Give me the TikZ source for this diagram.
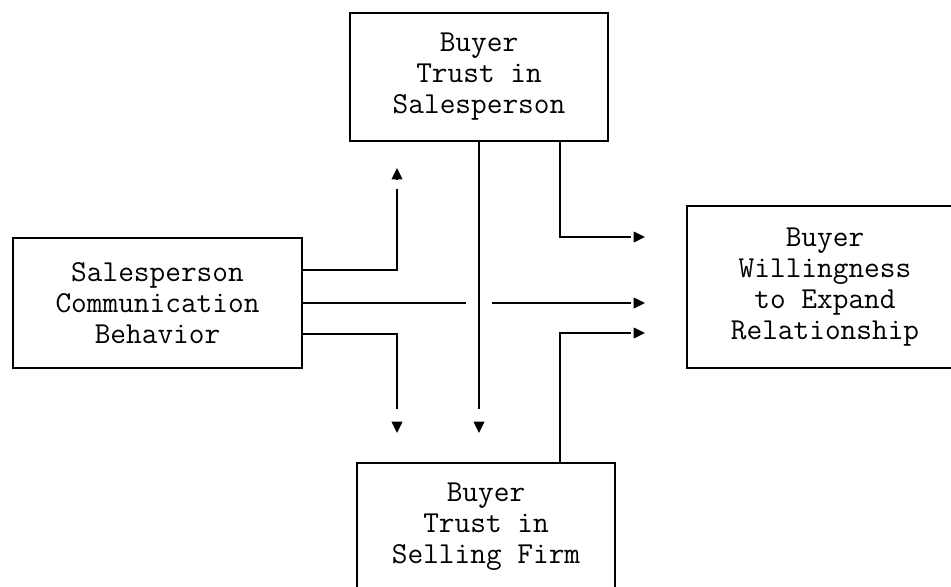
\documentclass[tikz,border=0pt]{standalone}
\usetikzlibrary{arrows.meta}

\begin{document}
\begin{tikzpicture}[x=0.03cm,y=-0.03cm,
  box/.style={draw,line width=1.2pt,align=center,inner sep=0pt,
    font=\fontsize{26}{26.5}\selectfont\ttfamily},
  link/.style={line width=1.2pt},
  headat/.style={line width=1.2pt,-{Triangle[length=0.34cm,width=0.32cm]}}]
  \useasboundingbox (0,0) rectangle (951,586);
  % boxes
  \node[box,minimum width=7.74cm,minimum height=3.84cm] (trustsp) at (479,77)
    {Buyer\\Trust in\\Salesperson};
  \node[box,minimum width=8.67cm,minimum height=3.9cm] (comm) at (157.5,303)
    {Salesperson\\Communication\\Behavior};
  \node[box,minimum width=8.28cm,minimum height=4.86cm] (will) at (825,287)
    {Buyer\\Willingness\\to Expand\\Relationship};
  \node[box,minimum width=7.74cm,minimum height=3.84cm] (trustfirm) at (486,527)
    {Buyer\\Trust in\\Selling Firm};
  % free arrow ends
  \coordinate (upend) at (397,168);
  \coordinate (downend) at (397,433);
  \coordinate (inA) at (645,237);
  \coordinate (inB) at (645,303);
  \coordinate (inC) at (645,333);
  % links, line stops short of the head
  \draw[link,shorten >=0.64cm] (comm.east) ++(0,-33) -| (upend);
  \draw[link,shorten >=0.73cm] (comm.east) ++(0,31) -| (downend);
  \draw[link,shorten >=0.39cm] (comm.east) -- (comm.east -| trustsp.south);
  \draw[link,shorten <=0.39cm,shorten >=0.43cm] (comm.east -| trustsp.south) -- (inB);
  \draw[link,shorten >=0.73cm] (trustsp.south) -- (trustsp.south |- downend);
  \draw[link,shorten >=0.43cm] (trustsp.south) ++(81,0) |- (inA);
  \draw[link,shorten >=0.43cm] (trustfirm.north) ++(74,0) |- (inC);
  % heads
  \draw[headat] (upend) ++(0,11.3) -- (upend);
  \draw[headat] (downend) ++(0,-11.3) -- (downend);
  \draw[headat] (trustsp.south |- downend) ++(0,-11.3) -- (trustsp.south |- downend);
  \draw[headat] (inA) ++(-11.3,0) -- (inA);
  \draw[headat] (inB) ++(-11.3,0) -- (inB);
  \draw[headat] (inC) ++(-11.3,0) -- (inC);
\end{tikzpicture}
\end{document}
